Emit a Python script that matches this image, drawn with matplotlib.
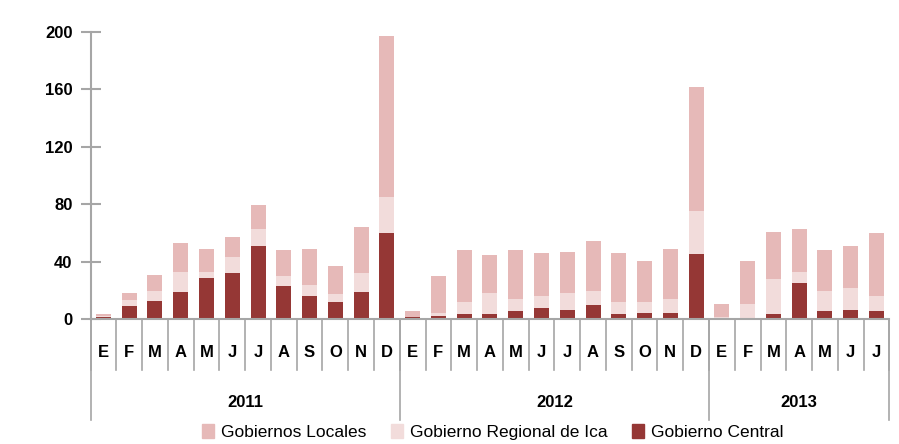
import numpy as np
import matplotlib
matplotlib.use("Agg")
import matplotlib.pyplot as plt
from matplotlib.patches import Patch

plt.rcParams['font.family'] = ['Liberation Sans', 'DejaVu Sans']

# months Jan 2011 - Jul 2013
months = ["E", "F", "M", "A", "M", "J", "J", "A", "S", "O", "N", "D",
          "E", "F", "M", "A", "M", "J", "J", "A", "S", "O", "N", "D",
          "E", "F", "M", "A", "M", "J", "J"]
years = ["2011", "2012", "2013"]
year_sizes = [12, 12, 7]

central = [1.5, 9.3, 12.8, 19.0, 28.8, 32.3, 51.0, 23.4, 16.2, 11.8, 19.0, 59.9,
           1.4, 2.3, 3.5, 3.5, 5.8, 7.7, 6.5, 9.7, 3.5, 4.4, 4.4, 45.7,
           0.0, 0.0, 3.5, 25.5, 5.8, 6.5, 5.6]
regional = [1.0, 4.2, 6.7, 14.0, 4.2, 11.3, 12.1, 6.8, 7.7, 5.6, 13.3, 25.3,
            0.5, 2.3, 8.8, 14.6, 8.6, 8.5, 11.6, 10.0, 8.8, 7.7, 10.0, 29.9,
            1.9, 10.9, 24.3, 7.5, 13.9, 15.1, 10.6]
locales = [1.5, 4.6, 11.5, 20.4, 16.0, 13.9, 16.7, 17.8, 25.1, 20.0, 31.7, 112.0,
           3.7, 25.6, 36.0, 26.7, 33.9, 29.7, 29.0, 34.8, 33.6, 28.7, 34.6, 85.9,
           9.0, 29.9, 33.0, 29.9, 28.6, 29.4, 43.7]

c_central = "#953735"
c_regional = "#F2DCDB"
c_locales = "#E6B9B8"
grey = "#A6A6A6"

fig = plt.figure(figsize=(8.99, 4.44), dpi=100)
ax = fig.add_axes([0.1007, 0.2808, 0.8886, 0.6472])

x = np.arange(len(months))
central = np.array(central)
regional = np.array(regional)
locales = np.array(locales)
w = 0.58
ax.bar(x, central, w, color=c_central)
ax.bar(x, regional, w, bottom=central, color=c_regional)
ax.bar(x, locales, w, bottom=central + regional, color=c_locales)

ax.set_xlim(-0.5, len(months) - 0.5)
ax.set_ylim(0, 200)
ax.set_yticks(np.arange(0, 201, 40))
for s in ["top", "right"]:
    ax.spines[s].set_visible(False)
for s in ["left", "bottom"]:
    ax.spines[s].set_color(grey)
    ax.spines[s].set_linewidth(1.5)
ax.tick_params(axis="y", direction="inout", length=14, width=1.5, color=grey,
               labelsize=12, pad=6)
for lab in ax.get_yticklabels():
    lab.set_fontweight("bold")
ax.set_xticks([])

tr = ax.get_xaxis_transform()
# month labels and separators
for i, m in enumerate(months):
    ax.text(i, -0.117, m, transform=tr, ha="center", va="center",
            fontsize=12, fontweight="bold")
for i in range(len(months) + 1):
    ax.plot([i - 0.5, i - 0.5], [0, -0.175], transform=tr, color=grey,
            lw=1.2, clip_on=False)
# year labels and separators
start = 0
bounds = [0]
for y, n in zip(years, year_sizes):
    ax.text(start + n / 2 - 0.5, -0.29, y, transform=tr, ha="center",
            va="center", fontsize=12, fontweight="bold")
    start += n
    bounds.append(start)
for b in bounds:
    ax.plot([b - 0.5, b - 0.5], [0, -0.35], transform=tr, color=grey,
            lw=1.2, clip_on=False)

handles = [Patch(color=c_locales), Patch(color=c_regional), Patch(color=c_central)]
labels = ["Gobiernos Locales", "Gobierno Regional de Ica", "Gobierno Central"]
fig.legend(handles, labels, loc="center", bbox_to_anchor=(0.548, 0.027),
           ncol=3, frameon=False, fontsize=12.5, handlelength=0.7,
           handleheight=0.9, handletextpad=0.4, columnspacing=1.4)

fig.savefig("out.png", dpi=100)
